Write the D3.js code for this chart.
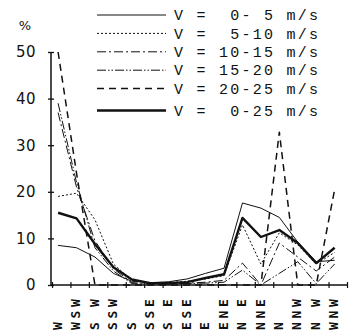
<!DOCTYPE html>
<html>
<head>
<meta charset="utf-8">
<script src="https://cdn.jsdelivr.net/npm/d3@7"></script>
<style>
html,body{margin:0;padding:0;background:#fff;}
svg{display:block;}
</style>
</head>
<body>
<svg id="chart" width="359" height="335"></svg>
<script>
// ---- data ----
const categories = ["W","WSW","SW","SSW","S","SSE","SE","ESE","E","ENE","NE","NNE","N","NNW","NW","WNW"];
const v0_5   = [8.5, 8.0, 6.0, 2.5, 0.8, 0.5, 0.7, 1.3, 2.5, 3.6, 17.6, 16.5, 14.5, 9.2, 5.0, 5.3];
const v5_10  = [19.0, 19.7, 14.0, 4.5, 1.0, 0.5, 0.5, 0.8, 1.3, 2.0, 12.9, 4.5, 11.2, 8.6, 4.5, 7.0];
const v10_15 = [37.0, 21.0, 9.5, 3.5, 0.5, 0.3, 0.3, 0.4, 0.6, 1.0, 4.7, 0.0, 9.0, 6.0, 3.0, 6.0];
const v15_20 = [39.0, 22.0, 8.0, 3.0, 0.3, 0.2, 0.2, 0.3, 0.4, 0.6, 3.2, 0.0, 2.5, 5.0, 0.3, 4.5];
const v20_25 = [50.0, 24.0, 0.0, 0.0, 0.0, 0.0, 0.0, 0.0, 0.0, 0.0, 0.0, 0.0, 32.8, 0.0, 0.0, 20.5];
const v0_25  = [15.5, 14.3, 8.8, 3.8, 1.2, 0.4, 0.4, 0.6, 1.5, 2.3, 14.4, 10.3, 11.8, 9.0, 4.7, 8.0];
const yTicks = [0, 10, 20, 30, 40, 50];
const legendLabels = ["V =  0- 5 m/s","V =  5-10 m/s","V = 10-15 m/s","V = 15-20 m/s","V = 20-25 m/s","V =  0-25 m/s"];

const series = [
  {label: legendLabels[0], values: v0_5,   width: 1,   dash: null},
  {label: legendLabels[1], values: v5_10,  width: 1,   dash: "2,2"},
  {label: legendLabels[2], values: v10_15, width: 1,   dash: "9,3,2,3"},
  {label: legendLabels[3], values: v15_20, width: 1,   dash: "9,2,1.5,2,1.5,2"},
  {label: legendLabels[4], values: v20_25, width: 1.5, dash: "7,5"},
  {label: legendLabels[5], values: v0_25,  width: 2.4, dash: null}
];

const svg = d3.select("#chart");
const ink = "#111";

// scales
const x = d3.scaleLinear().domain([0, categories.length]).range([52, 347]);
const dataOffset = 0.33;
const y = d3.scaleLinear().domain([0, 50]).range([285, 52]);

// y axis
const yAxis = svg.append("g").attr("transform", `translate(${x(0) - 1},0)`)
  .call(d3.axisLeft(y).tickValues(yTicks).tickSize(3).tickPadding(12));
yAxis.select(".domain").remove();
yAxis.append("line").attr("x1", 0).attr("x2", 0).attr("y1", y(0)).attr("y2", y(50))
  .attr("stroke", ink).attr("stroke-width", 1.5);
yAxis.selectAll(".tick line").attr("x1", -3).attr("x2", 3).attr("stroke", ink).attr("stroke-width", 1.3);
yAxis.selectAll(".tick text")
  .attr("font-family", "DejaVu Sans")
  .attr("font-size", 15)
  .attr("letter-spacing", "0.5px")
  .attr("fill", ink);

svg.append("text").attr("x", 25).attr("y", 30).attr("text-anchor", "middle")
  .attr("font-family", "DejaVu Sans").attr("font-size", 13).attr("fill", ink).text("%");

// x axis
const xAxis = svg.append("g").attr("transform", `translate(0,${y(0)})`)
  .call(d3.axisBottom(x).tickValues(d3.range(0, categories.length + 1)).tickSize(3).tickFormat(""));
xAxis.select(".domain").remove();
xAxis.append("line").attr("x1", x(0) - 1).attr("x2", x(categories.length) + 1).attr("y1", 0).attr("y2", 0)
  .attr("stroke", ink).attr("stroke-width", 1.6);
xAxis.selectAll(".tick line").attr("y1", -3).attr("y2", 3).attr("stroke", ink).attr("stroke-width", 1.2);

// x labels: each label in a group rotated -90deg; first letter at bottom, last letter at top
const slotStep = 11.5;
const lab = svg.append("g");
categories.forEach((name, i) => {
  const chars = name.split("");
  const slots = chars.length === 1 ? [0] : chars.length === 2 ? [0, 2] : [0, 1, 2];
  const g = lab.append("g")
    .attr("transform", "translate(" + (x(i + dataOffset) - 1) + ",330) rotate(-90)");
  chars.forEach((c, k) => {
    g.append("text")
      .attr("x", slots[k] * slotStep)
      .attr("y", 0)
      .attr("dy", "0.36em")
      .attr("font-family", "DejaVu Sans Mono")
      .attr("font-weight", "bold")
      .attr("font-size", 13)
      .attr("fill", ink)
      .text(c);
  });
});

// lines
const line = d3.line().x((d, i) => x(i + dataOffset)).y(d => y(d));
series.forEach(s => {
  svg.append("path").datum(s.values)
    .attr("d", line)
    .attr("fill", "none")
    .attr("stroke", ink)
    .attr("stroke-width", s.width)
    .attr("stroke-dasharray", s.dash)
    .attr("stroke-linejoin", "round");
});

// legend
const leg = svg.append("g");
series.forEach((s, i) => {
  const ly = 15 + i * 18.4 + (i === 5 ? 3.5 : 0);
  leg.append("line").attr("x1", 97).attr("x2", 166).attr("y1", ly).attr("y2", ly)
    .attr("stroke", ink).attr("stroke-width", s.width).attr("stroke-dasharray", s.dash);
  leg.append("text").attr("x", 174).attr("y", ly).attr("dy", "0.35em")
    .attr("font-family", "Liberation Mono").attr("font-size", 15)
    .attr("textLength", 144).attr("lengthAdjust", "spacing")
    .style("white-space", "pre")
    .attr("fill", ink).text(s.label);
});
</script>
</body>
</html>
